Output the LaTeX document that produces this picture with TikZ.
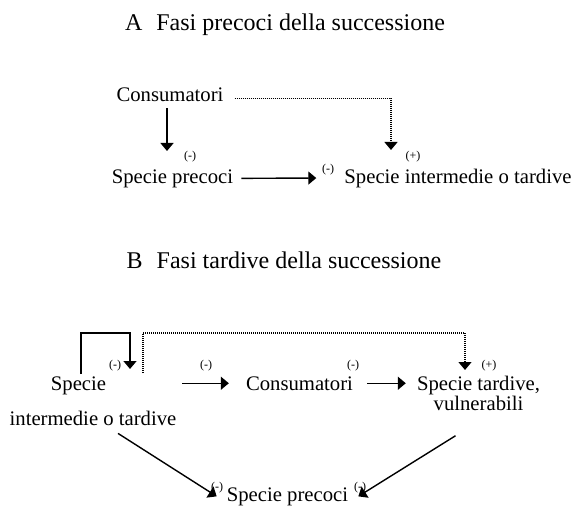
\documentclass[tikz,border=0pt]{standalone}
\usepackage{fontspec}
\setmainfont{Liberation Serif}
\usetikzlibrary{arrows.meta}

\begin{document}
\begin{tikzpicture}[
    x=1pt, y=-1pt,
    ttl/.style={font=\fontsize{24}{26}\selectfont, inner sep=0pt, anchor=base},
    lbl/.style={font=\fontsize{20.7}{18}\selectfont, inner sep=0pt, anchor=base},
    sgn/.style={font=\fontsize{12}{13}\selectfont, inner sep=0pt},
    arr/.style={line width=1.4pt, -{Triangle[width=13pt,length=8pt]}},
    dot/.style={line width=1.2pt, dash pattern=on 1pt off 1pt,
                -{Triangle[width=13pt,length=8pt]}},
  ]
  \useasboundingbox (0,0) rectangle (577,505);

  % A: early stages
  \node[ttl] (titleA) at (285,31) {A\hspace{14pt}Fasi precoci della successione};
  \node[lbl] (consA) at (170,102) {Consumatori};
  \node[lbl] (precA) at (172.5,183) {Specie precoci};
  \node[lbl] (intA)  at (458,183) {Specie intermedie o tardive};

  \coordinate (tA1) at (167,151);
  \coordinate (tA3) at (391,150);
  \draw[arr] (consA.south -| tA1) ++(0,6) -- (tA1);
  \node[sgn] (sA1) at (190,157) {(-)};
  \draw[arr] ([xshift=8pt]precA.east) -- ([xshift=-28pt]intA.west);
  \node[sgn] (sA2) at (328,170) {(-)};
  \draw[dot] ([xshift=11pt,yshift=-3pt]consA.east) -| (tA3);
  \node[sgn] (sA3) at (413,157) {(+)};

  % B: late stages
  \node[ttl] (titleB) at (284,268) {B\hspace{14pt}Fasi tardive della successione};
  \node[lbl] (specB)  at (78.5,390) {Specie};
  \node[lbl] (intB)   at (93,425) {intermedie o tardive};
  \node[lbl] (consB)  at (299.5,390) {Consumatori};
  \node[lbl, anchor=north, align=center] (tardB) at (478.5,376)
    {Specie tardive,\\vulnerabili};
  \node[lbl] (precB)  at (287.5,501) {Specie precoci};

  % loop on the intermediate species, dotted facilitation to late species
  \coordinate (tB1) at (130,369);
  \coordinate (dB)  at (143,373);
  \coordinate (tB2) at (465,370);
  \draw[arr] ([xshift=2.5pt,yshift=2pt]specB.north) -- ++(0,-41) -| (tB1);
  \node[sgn] (sB1) at (115,366) {(-)};
  \draw[dot] (dB) -- ++(0,-40) -| (tB2);
  \node[sgn] (sB2) at (489,366) {(+)};

  \draw[arr] ([xshift=76pt]specB.east |- consB.west) -- ([xshift=-17pt]consB.west);
  \node[sgn] (sB3) at (206,366) {(-)};
  \draw[arr] ([xshift=14pt]consB.east) -- ([xshift=-11pt]tardB.west |- consB.east);
  \node[sgn] (sB4) at (353,366) {(-)};

  \draw[arr] ([xshift=25pt,yshift=-8pt]intB.south) -- ([xshift=-10pt]precB.west);
  \node[sgn] (sB5) at (217,488) {(-)};
  \draw[arr] ([xshift=-23pt,yshift=-25pt]tardB.south) -- ([xshift=10pt]precB.east);
  \node[sgn] (sB6) at (360,488) {(-)};
\end{tikzpicture}
\end{document}
